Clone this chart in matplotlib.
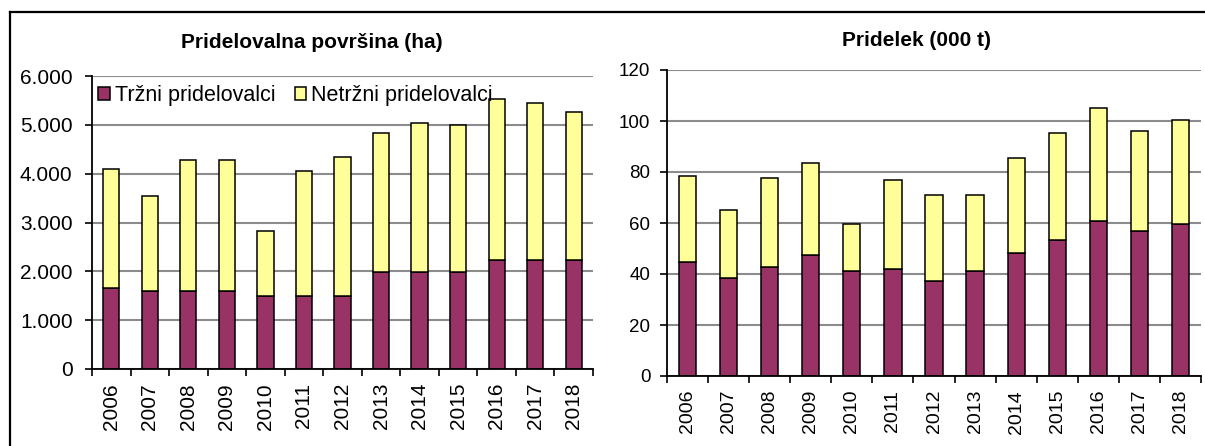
import matplotlib.pyplot as plt
from matplotlib.lines import Line2D
import numpy as np

plt.rcParams['font.family'] = ['Liberation Sans', 'DejaVu Sans']

years = ['2006', '2007', '2008', '2009', '2010', '2011', '2012',
         '2013', '2014', '2015', '2016', '2017', '2018']

# Pridelovalna povrsina (ha)
area_trzni = [1650, 1600, 1600, 1600, 1500, 1500, 1500, 1980, 1980, 1980, 2230, 2230, 2230]
area_total = [4090, 3540, 4275, 4275, 2820, 4055, 4350, 4830, 5040, 5005, 5520, 5445, 5265]

# Pridelek (000 t)
prod_trzni = [44.7, 38.5, 42.7, 47.6, 41.3, 42.1, 37.1, 41.3, 48.2, 53.2, 60.9, 56.8, 59.5]
prod_total = [78.6, 65.2, 77.8, 83.5, 59.7, 77.0, 70.8, 70.8, 85.6, 95.4, 105.2, 95.9, 100.4]

labels = ['Tržni pridelovalci', 'Netržni pridelovalci']
c_trzni = '#993366'
c_netrzni = '#FFFF99'

W, H = 1205, 446
fig = plt.figure(figsize=(W / 100, H / 100), dpi=100)


def px_axes(x0, y0, x1, y1):
    return fig.add_axes([x0 / W, 1 - y1 / H, (x1 - x0) / W, (y1 - y0) / H])


def draw(ax, trzni, total, ymax, step, fmt, ytick_size, xtick_size, ypad):
    x = np.arange(len(years))
    netrzni = np.array(total) - np.array(trzni)
    b1 = ax.bar(x, trzni, width=0.42, color=c_trzni, edgecolor='black', linewidth=1.1, zorder=3)
    b2 = ax.bar(x, netrzni, bottom=trzni, width=0.42, color=c_netrzni, edgecolor='black',
                linewidth=1.1, zorder=3)
    ax.set_xlim(-0.5, len(years) - 0.5)
    ax.set_ylim(0, ymax)
    ticks = np.arange(0, ymax + step / 2, step)
    ax.set_yticks(ticks)
    ax.set_yticklabels([fmt(t) for t in ticks], fontsize=ytick_size)
    ax.set_xticks(x)
    ax.set_xticklabels(years, rotation=90, fontsize=xtick_size)
    ax.set_xticks(np.arange(-0.5, len(years)), minor=True)
    ax.tick_params(axis='x', which='major', length=0, pad=10)
    ax.tick_params(axis='x', which='minor', length=5, width=1.2, direction='out')
    ax.tick_params(axis='y', length=5, width=1.2, direction='out', pad=ypad)
    ax.yaxis.grid(True, color='#8c8c8c', linewidth=1.5, zorder=0)
    ax.set_axisbelow(True)
    for s in ['top', 'right']:
        ax.spines[s].set_visible(False)
    for s in ['left', 'bottom']:
        ax.spines[s].set_linewidth(1.3)
        ax.spines[s].set_zorder(4)
    return b1, b2


ax1 = px_axes(92, 76, 593, 369)
b1, b2 = draw(ax1, area_trzni, area_total, 6000, 1000,
              lambda v: f'{int(v):,}'.replace(',', '.'), 15, 15, 9)
ax1.legend([b1, b2], labels, ncol=2, loc='upper left', bbox_to_anchor=(0.0, 0.99),
           frameon=False, fontsize=15.5, handlelength=0.55, handleheight=0.55,
           handletextpad=0.2, columnspacing=0.9, borderaxespad=0.2, borderpad=0.1)

ax2 = px_axes(667, 70, 1201, 376)
draw(ax2, prod_trzni, prod_total, 120, 20, lambda v: f'{int(v)}', 13.5, 14, 7)

fig.text(312 / W, 1 - 42 / H, 'Pridelovalna površina (ha)', ha='center', va='center',
         fontsize=15, fontweight='bold')
fig.text(916 / W, 1 - 41 / H, 'Pridelek (000 t)', ha='center', va='center',
         fontsize=15, fontweight='bold')

# outer frame (right and bottom edges fall outside the picture)
fig.add_artist(Line2D([10 / W, 10 / W], [0, 1 - 12 / H], color='black', linewidth=1.6))
fig.add_artist(Line2D([10 / W, 1], [1 - 12 / H, 1 - 12 / H], color='black', linewidth=1.6))

fig.savefig('out.png', dpi=100)
